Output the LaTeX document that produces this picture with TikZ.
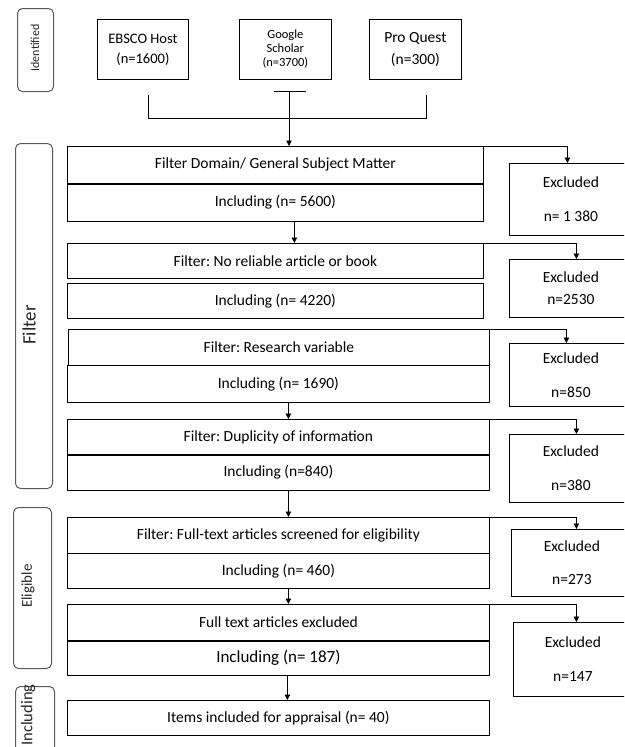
\documentclass[tikz,border=0pt]{standalone}
\usepackage{fontspec}
\setmainfont{Carlito}
\usetikzlibrary{arrows.meta}
\frenchspacing
\begin{document}
\frenchspacing
\begin{tikzpicture}[x=1pt,y=-1pt,
  bx/.style={draw, line width=0.8pt, inner sep=0pt, anchor=north west, align=center,
             font=\fontsize{15.5}{18}\selectfont\frenchspacing},
  ex/.style={bx},
  lbl/.style={draw=black!65, line width=1pt, rounded corners=5pt, anchor=north west, inner sep=0pt},
  lbltxt/.style={rotate=90, inner sep=0pt, text=black!85},
  arr/.style={line width=0.8pt, -{Triangle[length=5.5pt,width=5.5pt]}},
  ln/.style={line width=0.8pt},
  thk/.style={line width=2pt}]
\clip (0,0) rectangle (624,747);
\useasboundingbox (0,0) rectangle (624,747);

% stage labels
\node[lbl, minimum width=36pt, minimum height=83pt] (lid) at (17,8) {};
\node[lbltxt, font=\fontsize{12}{14}\selectfont] (tid) at (35,48) {Identified};
\node[lbl, minimum width=37pt, minimum height=345pt] (lfi) at (15,143) {};
\node[lbltxt, font=\fontsize{19}{22}\selectfont] (tfi) at (29,325) {Filter};
\node[lbl, minimum width=38pt, minimum height=161pt] (lel) at (13,507) {};
\node[lbltxt, font=\fontsize{15}{18}\selectfont] (tel) at (28,586) {Eligible};
\node[lbl, minimum width=39pt, minimum height=80pt] (lin) at (15,686) {};
\node[lbltxt, font=\fontsize{16.5}{19}\selectfont] (tin) at (28,715) {Including};

% sources
\node[bx, minimum width=91pt, minimum height=60pt, font=\fontsize{14.5}{20}\selectfont] (eb) at (97,19) {EBSCO Host\\(n=1600)};
\node[bx, minimum width=92pt, minimum height=60pt, font=\fontsize{12.5}{14}\selectfont] (go) at (239,19) {Google\\Scholar\\(n=3700)};
\node[bx, minimum width=92pt, minimum height=60pt, font=\fontsize{15.5}{22}\selectfont] (pq) at (369,19) {Pro Quest\\(n=300)};

% bracket and bar
\coordinate (brL) at (148,95);
\coordinate (brLb) at (148,118);
\coordinate (brRb) at (426,118);
\coordinate (brR) at (426,95);
\draw[ln] (brL) -- (brLb) -- (brRb) -- (brR);
\coordinate (barL) at (274,91);
\coordinate (barR) at (306,91);
\coordinate (barC) at (289,91);
\draw[ln] (barL) -- (barR);

% main boxes
\node[bx, minimum width=416pt, minimum height=37pt] (b1a) at (67,146) {Filter Domain/ General Subject Matter};
\node[bx, minimum width=416pt, minimum height=38pt] (b1b) at (67,183) {Including (n= 5600)};
\node[bx, minimum width=416pt, minimum height=35pt] (b2a) at (67,243) {Filter: No reliable article or book};
\node[bx, minimum width=416pt, minimum height=35pt] (b2b) at (67,283) {Including (n= 4220)};
\node[bx, minimum width=421pt, minimum height=36pt] (b3a) at (68,329) {Filter: Research variable};
\node[bx, minimum width=422pt, minimum height=37pt] (b3b) at (67,365) {Including (n= 1690)};
\node[bx, minimum width=422pt, minimum height=35pt] (b4a) at (67,419) {Filter: Duplicity of information};
\node[bx, minimum width=422pt, minimum height=36pt] (b4b) at (67,454) {Including (n=840)};
\node[bx, minimum width=422pt, minimum height=36pt] (b5a) at (67,517) {Filter: Full-text articles screened for eligibility};
\node[bx, minimum width=422pt, minimum height=35pt] (b5b) at (67,553) {Including (n= 460)};
\node[bx, minimum width=422pt, minimum height=36pt] (b6a) at (67,604) {Full text articles excluded};
\node[bx, minimum width=422pt, minimum height=35pt, font=\fontsize{17}{20}\selectfont] (b6b) at (67,640) {Including (n= 187)};
\node[bx, minimum width=422pt, minimum height=35pt] (it) at (67,700) {Items included for appraisal (n= 40)};

% thick dividers
\draw[thk] (b1a.south west) -- (b1a.south east);
\draw[thk] (b4a.south west) -- (b4a.south east);
\draw[thk] (b6a.south west) -- (b6a.south east);

% excluded boxes
\node[ex, minimum width=123pt, minimum height=72pt] (e1) at (509,163) {Excluded\\[16pt]n= 1 380};
\node[ex, minimum width=123pt, minimum height=58pt] (e2) at (509,259) {Excluded\\[4pt]n=2530};
\node[ex, minimum width=123pt, minimum height=63pt] (e3) at (509,343) {Excluded\\[16pt]n=850};
\node[ex, minimum width=123pt, minimum height=68pt] (e4) at (509,434) {Excluded\\[16pt]n=380};
\node[ex, minimum width=121pt, minimum height=67pt] (e5) at (511,529) {Excluded\\[15pt]n=273};
\node[ex, minimum width=119pt, minimum height=74pt] (e6) at (513,622) {Excluded\\[16pt]n=147};

% connectors to excluded
\draw[arr] (b1a.north east) -| ([xshift=-3.5pt]e1.north);
\draw[arr] (b2a.north east) -| ([xshift=5.5pt]e2.north);
\draw[arr] (b3a.north east) -| ([xshift=-4.5pt]e3.north);
\draw[arr] (b4a.north east) -| ([xshift=5.5pt]e4.north);
\draw[arr] (b5a.north east) -| ([xshift=4.5pt]e5.north);
\draw[arr] (b6a.north east) -| ([xshift=3.5pt]e6.north);

% main flow arrows
\draw[arr] (barC) -- (barC |- b1a.north);
\draw[arr] ([xshift=19pt]b1b.south) -- ([xshift=19pt]b2a.north);
\draw[arr] ([xshift=10pt]b3b.south) -- ([xshift=10pt]b4a.north);
\draw[arr] ([xshift=10pt]b4b.south) -- ([xshift=10pt]b5a.north);
\draw[arr] ([xshift=10pt]b5b.south) -- ([xshift=10pt]b6a.north);
\draw[arr] ([xshift=9pt]b6b.south) -- ([xshift=9pt]it.north);
\end{tikzpicture}
\end{document}
